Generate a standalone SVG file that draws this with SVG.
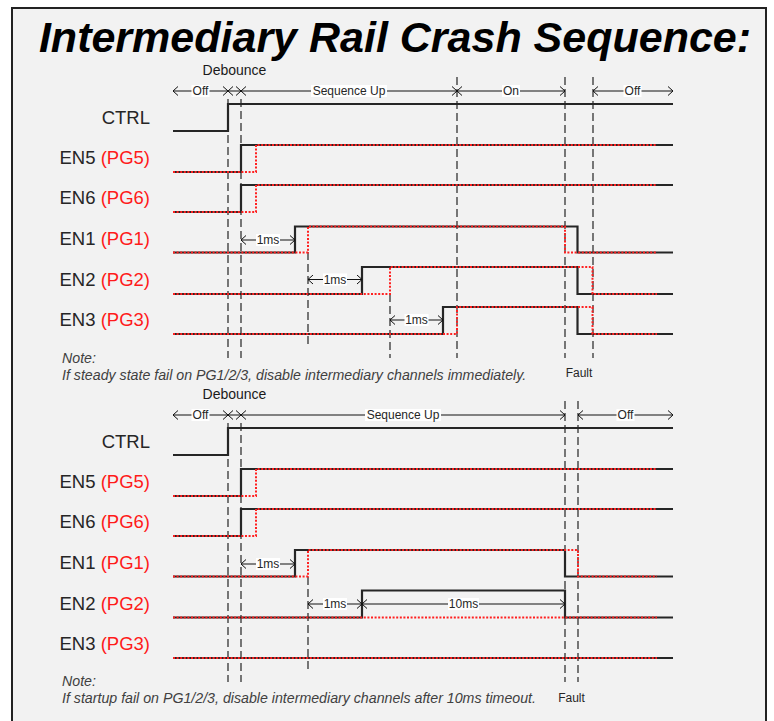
<svg xmlns="http://www.w3.org/2000/svg" width="774" height="721" viewBox="0 0 774 721">
<style>
.frame{fill:#f2f2f2;stroke:#222;stroke-width:2}
.title{font-family:"Liberation Sans",Arial,sans-serif;font-weight:bold;font-style:italic;font-size:43px;fill:#000;text-anchor:middle}
.sig{font-family:"Liberation Sans",Arial,sans-serif;font-size:18.5px;fill:#262626;text-anchor:end}
.pg{fill:#ff1a1a}
.sm{font-family:"Liberation Sans",Arial,sans-serif;font-size:12px;fill:#262626;text-anchor:middle}
.deb{font-family:"Liberation Sans",Arial,sans-serif;font-size:14px;fill:#1a1a1a;text-anchor:middle}
.note{font-family:"Liberation Sans",Arial,sans-serif;font-size:14.2px;font-style:italic;fill:#404040}
.bg{fill:#fff}
.dim{fill:none;stroke:#111;stroke-width:1;marker-start:url(#ah);marker-end:url(#ah)}
.dash{fill:none;stroke:#333;stroke-width:1.3;stroke-dasharray:8 4}
.blk{fill:none;stroke:#262626;stroke-width:2.2}
.red{fill:none;stroke:#ff2020;stroke-width:2;stroke-dasharray:2 1.6}
</style>
<defs>
<marker id="ah" viewBox="-6 -5 7 10" refX="0" refY="0" markerWidth="7" markerHeight="10" orient="auto-start-reverse" markerUnits="userSpaceOnUse">
<path d="M-5,-4.5 L0,0 L-5,4.5" fill="none" stroke="#111" stroke-width="1"/>
</marker>
</defs>
<rect x="0" y="0" width="774" height="721" fill="#fff"/>
<rect class="frame" x="12" y="8" width="754" height="720"/>
<text class="title" x="395" y="52">Intermediary Rail Crash Sequence:</text>

<g id="top-diagram">
<g id="top-dashed">
<path class="dash" d="M228,99V358 M241,99V358 M308,252V346 M390,294V358 M457,77V358 M565,77V358 M593,77V358"/>
</g>
<g id="top-header">
<text class="deb" x="234.5" y="75">Debounce</text>
<path class="dim" d="M173,91H228"/>
<path class="dim" d="M228,91H241"/>
<path class="dim" d="M241,91H457"/>
<path class="dim" d="M457,91H565"/>
<path class="dim" d="M593,91H673"/>
<rect class="bg" x="191.5" y="85" width="18" height="12"/>
<text class="sm" x="200.5" y="95">Off</text>
<rect class="bg" x="311" y="85" width="76" height="12"/>
<text class="sm" x="349" y="95">Sequence Up</text>
<rect class="bg" x="502" y="85" width="18" height="12"/>
<text class="sm" x="511" y="95">On</text>
<rect class="bg" x="623.5" y="85" width="18" height="12"/>
<text class="sm" x="632.5" y="95">Off</text>
</g>
<g id="top-ctrl">
<text class="sig" x="150" y="124">CTRL</text>
<path class="blk" d="M173,131H228V104H673"/>
</g>
<g id="top-en5">
<text class="sig" x="150" y="164">EN5 <tspan class="pg">(PG5)</tspan></text>
<path class="blk" d="M173,172H241V145H673"/>
<path class="red" d="M173,172H256V145H657"/>
</g>
<g id="top-en6">
<text class="sig" x="150" y="204">EN6 <tspan class="pg">(PG6)</tspan></text>
<path class="blk" d="M173,212H241V185H673"/>
<path class="red" d="M173,212H256V185H657"/>
</g>
<g id="top-en1">
<text class="sig" x="150" y="245">EN1 <tspan class="pg">(PG1)</tspan></text>
<path class="blk" d="M173,252.5H295V226.5H577.5V252.5H673"/>
<path class="red" d="M173,252.5H308V226.5H565V252.5H657"/>
<path class="dim" d="M241,240H295"/>
<rect class="bg" x="256" y="234" width="24" height="12"/>
<text class="sm" x="268" y="244">1ms</text>
</g>
<g id="top-en2">
<text class="sig" x="150" y="285.5">EN2 <tspan class="pg">(PG2)</tspan></text>
<path class="blk" d="M173,294H362V267H577.5V294H673"/>
<path class="red" d="M173,294H390V267H592.5V294H657"/>
<path class="dim" d="M308,279.5H362"/>
<rect class="bg" x="323" y="273.5" width="24" height="12"/>
<text class="sm" x="335" y="283.5">1ms</text>
</g>
<g id="top-en3">
<text class="sig" x="150" y="326">EN3 <tspan class="pg">(PG3)</tspan></text>
<path class="blk" d="M173,334H443V307H577.5V334H673"/>
<path class="red" d="M173,334H457V307H592.5V334H657"/>
<path class="dim" d="M390,320H443"/>
<rect class="bg" x="404.5" y="314" width="24" height="12"/>
<text class="sm" x="416.5" y="324">1ms</text>
</g>
<g id="top-note">
<text class="note" x="62" y="362.5">Note:</text>
<text class="note" x="62" y="380">If steady state fail on PG1/2/3, disable intermediary channels immediately.</text>
<text class="sm" x="579" y="377">Fault</text>
</g>
</g>

<g id="bottom-diagram">
<g id="bot-dashed">
<path class="dash" d="M228,423V682 M241,423V682 M308,577V670 M565,401V682 M578,401V682"/>
</g>
<g id="bot-header">
<text class="deb" x="234.5" y="399">Debounce</text>
<path class="dim" d="M173,415H228"/>
<path class="dim" d="M228,415H241"/>
<path class="dim" d="M241,415H565"/>
<path class="dim" d="M578,415H673"/>
<rect class="bg" x="191.5" y="409" width="18" height="12"/>
<text class="sm" x="200.5" y="419">Off</text>
<rect class="bg" x="365" y="409" width="76" height="12"/>
<text class="sm" x="403" y="419">Sequence Up</text>
<rect class="bg" x="616.5" y="409" width="18" height="12"/>
<text class="sm" x="625.5" y="419">Off</text>
</g>
<g id="bot-ctrl">
<text class="sig" x="150" y="448">CTRL</text>
<path class="blk" d="M173,455H228V428H673"/>
</g>
<g id="bot-en5">
<text class="sig" x="150" y="488">EN5 <tspan class="pg">(PG5)</tspan></text>
<path class="blk" d="M173,496H241V469H673"/>
<path class="red" d="M173,496H256V469H657"/>
</g>
<g id="bot-en6">
<text class="sig" x="150" y="528">EN6 <tspan class="pg">(PG6)</tspan></text>
<path class="blk" d="M173,536H241V509H673"/>
<path class="red" d="M173,536H256V509H657"/>
</g>
<g id="bot-en1">
<text class="sig" x="150" y="569">EN1 <tspan class="pg">(PG1)</tspan></text>
<path class="blk" d="M173,576.5H295V550H565V576.5H673"/>
<path class="red" d="M173,576.5H308V550H578V576.5H657"/>
<path class="dim" d="M241,564H295"/>
<rect class="bg" x="256" y="558" width="24" height="12"/>
<text class="sm" x="268" y="568">1ms</text>
</g>
<g id="bot-en2">
<text class="sig" x="150" y="609.5">EN2 <tspan class="pg">(PG2)</tspan></text>
<path class="blk" d="M173,617.5H362V590.5H565V617.5H673"/>
<path class="red" d="M173,617.5H657"/>
<path class="dim" d="M308,604H362"/>
<path class="dim" d="M362,604H565"/>
<rect class="bg" x="323" y="598" width="24" height="12"/>
<text class="sm" x="335" y="608">1ms</text>
<rect class="bg" x="448" y="598" width="31" height="12"/>
<text class="sm" x="463.5" y="608">10ms</text>
</g>
<g id="bot-en3">
<text class="sig" x="150" y="650">EN3 <tspan class="pg">(PG3)</tspan></text>
<path class="blk" d="M173,658H673"/>
<path class="red" d="M173,658H657"/>
</g>
<g id="bot-note">
<text class="note" x="62" y="686">Note:</text>
<text class="note" x="62" y="703">If startup fail on PG1/2/3, disable intermediary channels after 10ms timeout.</text>
<text class="sm" x="571.5" y="702">Fault</text>
</g>
</g>
</svg>
